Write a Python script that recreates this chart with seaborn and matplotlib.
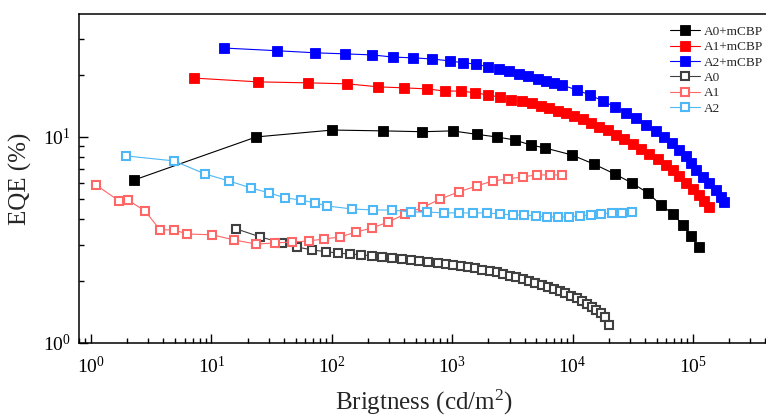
import numpy as np
import pandas as pd
import matplotlib
matplotlib.use('Agg')
import matplotlib.pyplot as plt
from matplotlib.ticker import NullFormatter
import seaborn as sns

# brightness (cd/m2) and EQE (%)
a0_mcbp_x = [2.28, 23.6, 101, 269, 567, 1007, 1596, 2340, 3305, 4490, 5870, 9850, 15000,
             22440, 31100, 42250, 54200, 68200, 82600, 96200, 112200]
a0_mcbp_y = [6.18, 10.0, 10.8, 10.7, 10.6, 10.7, 10.3, 10.0, 9.67, 9.14, 8.85, 8.18, 7.39,
             6.61, 5.98, 5.35, 4.68, 4.23, 3.74, 3.31, 2.92]

a1_mcbp_x = [7.19, 24.5, 63.9, 134.8, 244, 402, 624, 864, 1175, 1536, 1970, 2480, 3060, 3780,
             4580, 5440, 6340, 7530, 8770, 10230, 12160, 14170, 16520, 19630, 22870, 26680,
             31700, 36900, 43000, 51100, 59600, 68200, 76500, 87500, 100000, 112200, 123500,
             135900]
a1_mcbp_y = [19.3, 18.5, 18.3, 18.1, 17.5, 17.3, 17.1, 16.7, 16.7, 16.4, 16.0, 15.6, 15.1, 14.95,
             14.6, 14.1, 13.8, 13.4, 13.1, 12.6, 12.2, 11.7, 11.2, 10.8, 10.2, 9.78,
             9.25, 8.74, 8.27, 7.82, 7.31, 6.91, 6.47, 5.98, 5.59, 5.23, 4.89,
             4.57]

a2_mcbp_x = [12.8, 35.3, 73.0, 129.8, 217.7, 325.5, 477, 674, 951, 1221, 1566, 1970, 2432, 2945,
             3567, 4240, 5130, 5985, 6977, 8130, 10840, 13900, 17830, 22440, 27740, 33560,
             40640, 49200, 57400, 66900, 76500, 87500, 96200, 105900, 121100, 135900, 155400,
             171000, 181200]
a2_mcbp_y = [27.0, 26.2, 25.6, 25.3, 25.0, 24.4, 24.2, 23.9, 23.4, 22.9, 22.6, 21.9, 21.4, 20.9,
             20.2, 19.8, 19.1, 18.7, 18.3, 17.9, 16.9, 16.0, 14.95, 14.0, 13.1, 12.4,
             11.4, 10.7, 10.0, 9.35, 8.65, 8.09, 7.48, 6.91, 6.40, 5.98, 5.53,
             5.11, 4.84]

a0_x = [16.1, 25.5, 38.8, 51.7, 69.0, 90.2, 113.5, 142.8, 176.3, 217.7, 263.6, 319, 386, 459,
        535, 636, 756, 881, 1008, 1175, 1343, 1536, 1757, 2047, 2340, 2626, 3003, 3367, 3853,
        4323, 4850, 5545, 6220, 6980, 7820, 8610, 9660, 10840, 11930, 13130, 14450, 15600,
        17170, 18530, 20000]
a0_y = [3.58, 3.27, 3.06, 2.92, 2.83, 2.77, 2.73, 2.70, 2.68, 2.64, 2.62, 2.59, 2.56, 2.53,
        2.50, 2.47, 2.45, 2.42, 2.39, 2.36, 2.34, 2.31, 2.26, 2.24, 2.21, 2.16, 2.11, 2.09, 2.04,
        2.00, 1.955, 1.91, 1.87, 1.83, 1.79, 1.75, 1.69, 1.65, 1.60, 1.55, 1.50, 1.45,
        1.40, 1.34, 1.22]

a1_x = [1.10, 1.71, 2.03, 2.81, 3.75, 4.90, 6.29, 10.2, 15.5, 23.6, 33.9, 47.0, 65.1, 86.8,
        117.9, 160.2, 217.7, 295.8, 409.5, 578, 800, 1130, 1596, 2168, 2890, 3853, 5040,
        6460, 8130]
a1_y = [5.85, 4.89, 4.94, 4.37, 3.54, 3.54, 3.38, 3.35, 3.16, 3.02, 3.06, 3.09, 3.13, 3.20,
        3.27, 3.46, 3.62, 3.87, 4.23, 4.57, 5.00, 5.41, 5.78, 6.11, 6.25, 6.40, 6.54,
        6.54, 6.54]

a2_x = [1.95, 4.90, 8.88, 14.06, 21.4, 30.3, 41.1, 55.8, 73.0, 91.9, 148.4, 222, 319, 459,
        624, 848, 1130, 1479, 1933, 2480, 3180, 3926, 4940, 6100, 7530, 9300, 11480, 14170,
        17170, 21200, 25650, 31100]
a2_y = [8.09, 7.65, 6.61, 6.11, 5.65, 5.35, 5.06, 4.94, 4.78, 4.62, 4.47, 4.42, 4.42, 4.32,
        4.32, 4.28, 4.28, 4.28, 4.28, 4.23, 4.18, 4.18, 4.14, 4.09, 4.09, 4.09, 4.14, 4.18,
        4.23, 4.28, 4.28, 4.32]

series = [
    ("A0+mCBP", a0_mcbp_x, a0_mcbp_y, "#000000", True),
    ("A1+mCBP", a1_mcbp_x, a1_mcbp_y, "#ff0000", True),
    ("A2+mCBP", a2_mcbp_x, a2_mcbp_y, "#0000ff", True),
    ("A0", a0_x, a0_y, "#404040", False),
    ("A1", a1_x, a1_y, "#ff6666", False),
    ("A2", a2_x, a2_y, "#4db8f5", False),
]

sns.set_style("ticks")
plt.rcParams['font.family'] = ['Liberation Serif', 'DejaVu Serif']
plt.rcParams['mathtext.fontset'] = 'custom'
plt.rcParams['mathtext.rm'] = 'Liberation Serif'
plt.rcParams['mathtext.it'] = 'Liberation Serif:italic'

fig = plt.figure(figsize=(7.66, 4.18), dpi=100)
ax = fig.add_axes([79/766, 1 - 343/418, 690/766, 329/418])

for lbl, x, y, c, filled in series:
    sns.lineplot(x=x, y=y, ax=ax, color=c, label=lbl, sort=False, estimator=None,
                 marker='s', markersize=7.2 if filled else 6.3,
                 markerfacecolor=c if filled else 'white', markeredgecolor=c,
                 markeredgewidth=0.6 if filled else 1.5, linewidth=0.8)

ax.set(xscale='log', yscale='log')
ax.set_xlim(0.795, 428600)
ax.set_ylim(1, 39.5)
ax.xaxis.set_minor_formatter(NullFormatter())
ax.yaxis.set_minor_formatter(NullFormatter())

for s in ax.spines.values():
    s.set_linewidth(1.1)
    s.set_color('black')
ax.tick_params(which='both', direction='in', top=False, right=False, colors='black')
ax.tick_params(which='major', length=6.5, width=1, labelsize=14, pad=6)
ax.tick_params(axis='x', which='major', pad=9)
ax.tick_params(which='minor', length=3.5, width=1)

ax.set_xlabel("Brigtness (cd/m$^2$)", fontsize=18, labelpad=8)
ax.set_ylabel("EQE (%)", fontsize=18, labelpad=8)

ax.legend(loc='upper right', bbox_to_anchor=(1.0, 1 - 23/418), bbox_transform=fig.transFigure,
          frameon=False, fontsize=9.5, handlelength=2.3, handletextpad=0.3,
          labelspacing=0.24, borderpad=0.2, borderaxespad=0.0)

fig.savefig("out.png", dpi=100)
